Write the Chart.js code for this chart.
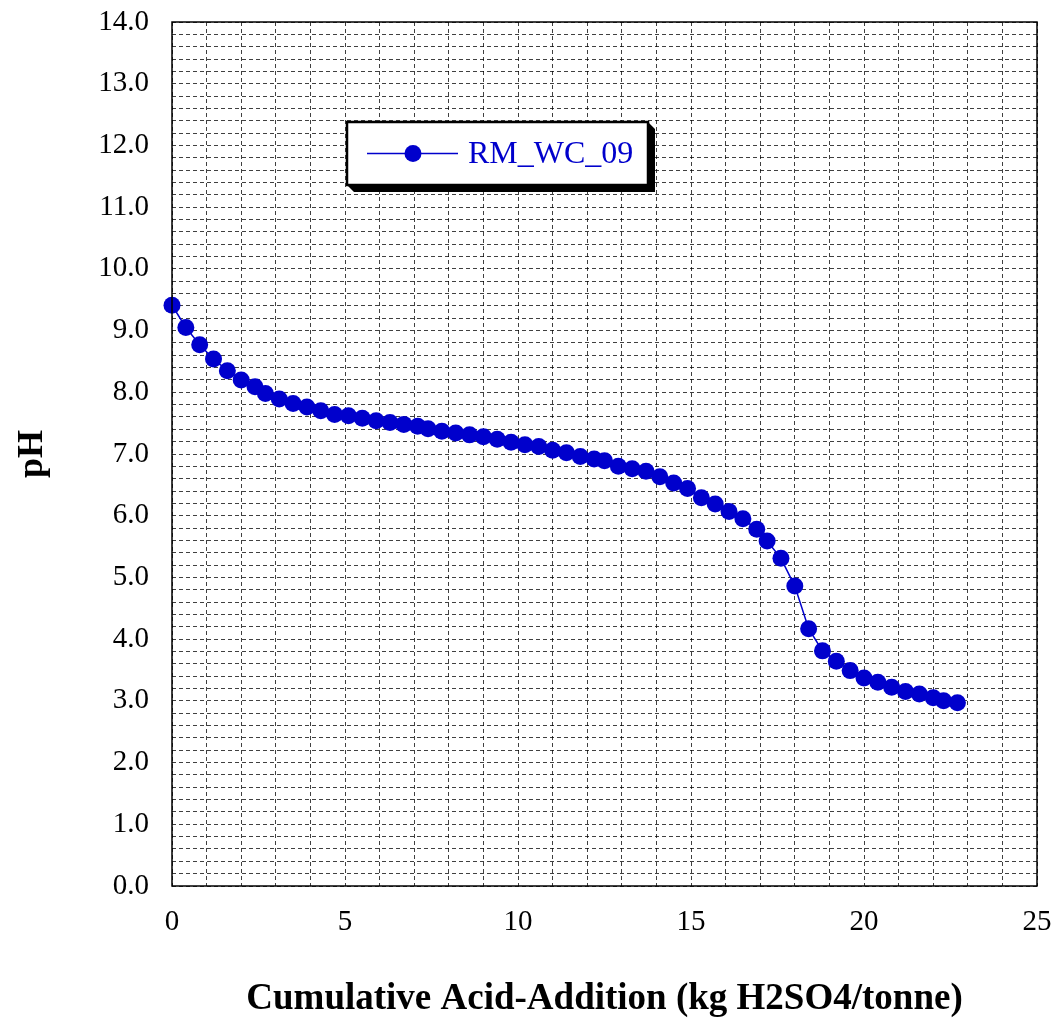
<!DOCTYPE html>
<html>
<head>
<meta charset="utf-8">
<script src="https://cdn.jsdelivr.net/npm/chart.js@4/dist/chart.umd.min.js"></script>
<style>
  html, body { margin: 0; padding: 0; background: #fff; }
  #wrap { width: 1057px; height: 1018px; }
</style>
</head>
<body>
<div id="wrap"><canvas id="ph" width="1057" height="1018"></canvas></div>
<script>
const acidAdded = [0, 0.4, 0.8, 1.2, 1.6, 2.0, 2.4, 2.7, 3.1, 3.5, 3.9, 4.3, 4.7, 5.1, 5.5, 5.9,
    6.3, 6.7, 7.1, 7.4, 7.8, 8.2, 8.6, 9.0, 9.4, 9.8, 10.2, 10.6, 11.0, 11.4, 11.8, 12.2, 12.5,
    12.9, 13.3, 13.7, 14.1, 14.5, 14.9, 15.3, 15.7, 16.1, 16.5, 16.9, 17.2, 17.6, 18.0, 18.4,
    18.8, 19.2, 19.6, 20.0, 20.4, 20.8, 21.2, 21.6, 22.0, 22.3, 22.7];
const phValues = [9.41, 9.05, 8.77, 8.54, 8.35, 8.20, 8.09, 7.98, 7.89, 7.82, 7.76, 7.70, 7.64,
    7.62, 7.58, 7.54, 7.51, 7.48, 7.45, 7.41, 7.37, 7.34, 7.31, 7.28, 7.24, 7.19, 7.15, 7.12,
    7.06, 7.02, 6.96, 6.92, 6.89, 6.80, 6.76, 6.72, 6.63, 6.53, 6.44, 6.29, 6.19, 6.07, 5.95,
    5.78, 5.59, 5.31, 4.86, 4.17, 3.81, 3.64, 3.49, 3.37, 3.30, 3.22, 3.15, 3.11, 3.05, 3.00, 2.97];
const seriesName = 'RM_WC_09';
const xAxisTitle = 'Cumulative Acid-Addition (kg H2SO4/tonne)';
const yAxisTitle = 'pH';
const xRange = [0, 25];
const yRange = [0, 14];

const blue = '#0000CC';
const gridColor = 'rgba(0,0,0,0.75)';
const serif = "'Liberation Serif', 'Times New Roman', serif";

var points = acidAdded.map((x, i) => ({ x: x, y: phValues[i] }));

// solid frame round the plot area
var frame = {
    id: 'frame',
    afterDatasetsDraw(chart) {
        var a = chart.chartArea, ctx = chart.ctx;
        ctx.save();
        ctx.strokeStyle = '#000';
        ctx.lineWidth = 1.5;
        ctx.strokeRect(a.left, a.top, a.right - a.left, a.bottom - a.top);
        ctx.restore();
    }
};

// boxed legend with a drop shadow, inside the plot
var boxLegend = {
    id: 'boxLegend',
    afterDraw(chart) {
        var a = chart.chartArea, ctx = chart.ctx;
        var ds = chart.data.datasets[0];
        var x = a.left + 175, y = a.top + 100, w = 301, h = 63, s = 7;
        ctx.save();
        ctx.fillStyle = '#000';
        ctx.beginPath();
        ctx.moveTo(x + s, y + h + s);
        ctx.lineTo(x, y + h);
        ctx.lineTo(x + w, y + h);
        ctx.lineTo(x + w, y);
        ctx.lineTo(x + w + s, y + s);
        ctx.lineTo(x + w + s, y + h + s);
        ctx.closePath();
        ctx.fill();
        ctx.fillStyle = '#fff';
        ctx.fillRect(x, y, w, h);
        ctx.strokeStyle = '#000';
        ctx.lineWidth = 2.5;
        ctx.strokeRect(x, y, w, h);

        var cy = y + h / 2;
        ctx.strokeStyle = ds.borderColor;
        ctx.lineWidth = ds.borderWidth;
        ctx.beginPath();
        ctx.moveTo(x + 20, cy);
        ctx.lineTo(x + 111, cy);
        ctx.stroke();
        ctx.fillStyle = ds.pointBackgroundColor;
        ctx.beginPath();
        ctx.arc(x + 66, cy, ds.pointRadius, 0, Math.PI * 2);
        ctx.fill();

        ctx.fillStyle = blue;
        ctx.font = '32px ' + serif;
        ctx.textBaseline = 'middle';
        ctx.textAlign = 'left';
        ctx.fillText(ds.label, x + 121, cy + 1);
        ctx.restore();
    }
};

var config = {
    type: 'line',
    data: {
        datasets: [{
            label: seriesName,
            data: points,
            borderColor: blue,
            borderWidth: 1.5,
            pointBackgroundColor: blue,
            pointBorderWidth: 0,
            pointRadius: 8.5,
            tension: 0,
            clip: false
        }]
    },
    options: {
        responsive: false,
        animation: false,
        layout: { padding: { top: 22, right: 20, bottom: 0, left: 0 } },
        plugins: {
            legend: { display: false },
            tooltip: { enabled: false }
        },
        scales: {
            x: {
                type: 'linear',
                min: xRange[0],
                max: xRange[1],
                afterFit: (s) => {
                    s.height = 132;
                    s.paddingLeft = 0;
                    s.paddingRight = 0;
                },
                grid: { color: gridColor, lineWidth: 1, drawTicks: false },
                border: { display: false, dash: [4, 3] },
                ticks: {
                    stepSize: 1,
                    autoSkip: false,
                    maxRotation: 0,
                    padding: 19,
                    color: '#000',
                    font: { family: serif, size: 29 },
                    callback: (v) => (Math.abs(v % 5) < 1e-6 ? String(v) : '')
                },
                title: {
                    display: true,
                    text: xAxisTitle,
                    color: '#000',
                    font: { family: serif, size: 37, weight: 'bold', lineHeight: 1 },
                    padding: { top: 0, bottom: 0 }
                }
            },
            y: {
                type: 'linear',
                min: yRange[0],
                max: yRange[1],
                afterFit: (s) => {
                    s.width = 172;
                    s.paddingTop = 0;
                    s.paddingBottom = 0;
                },
                grid: { color: gridColor, lineWidth: 1, drawTicks: false },
                border: { display: false, dash: [4, 3] },
                ticks: {
                    stepSize: 0.2,
                    autoSkip: false,
                    padding: 23,
                    color: '#000',
                    font: { family: serif, size: 29 },
                    callback: (v) => (Math.abs(v - Math.round(v)) < 1e-6 ? Math.round(v).toFixed(1) : '')
                },
                title: {
                    display: true,
                    text: yAxisTitle,
                    color: '#000',
                    font: { family: serif, size: 36, weight: 'bold', lineHeight: 1 },
                    padding: { top: 15, bottom: 0 }
                }
            }
        }
    },
    plugins: [frame, boxLegend]
};

var ctx = document.getElementById('ph').getContext('2d');
var chart = new Chart(ctx, config);
</script>
</body>
</html>
